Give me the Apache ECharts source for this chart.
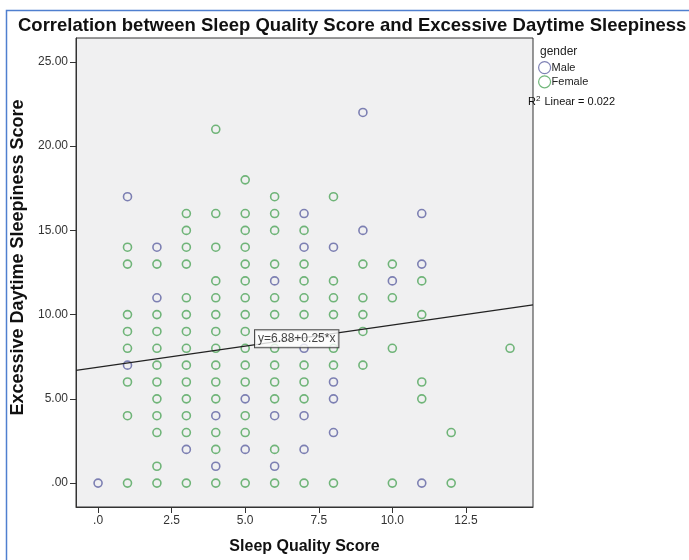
<!DOCTYPE html>
<html>
<head>
<meta charset="utf-8">
<script src="https://cdn.jsdelivr.net/npm/echarts@6/dist/echarts.min.js"></script>
<style>
  html, body { margin: 0; padding: 0; background: #fff; }
  #chart { width: 689px; height: 560px; }
</style>
</head>
<body>
<div id="chart"></div>
<script>
// points, [sleep quality, daytime sleepiness]
const malePoints = [
  [9, 22], [1, 17], [7, 16], [11, 16], [9, 15], [2, 14], [7, 14], [8, 14],
  [11, 13], [6, 12], [10, 12], [2, 11], [7, 8], [1, 7], [8, 6], [5, 5],
  [8, 5], [4, 4], [6, 4], [7, 4], [8, 3], [3, 2], [5, 2], [7, 2],
  [4, 1], [6, 1], [0, 0], [11, 0]
];

const femalePoints = [
  [4, 21], [5, 18], [6, 17], [8, 17],
  [3, 16], [4, 16], [5, 16], [6, 16],
  [3, 15], [5, 15], [6, 15], [7, 15],
  [1, 14], [3, 14], [4, 14], [5, 14],
  [1, 13], [2, 13], [3, 13], [5, 13], [6, 13], [7, 13], [9, 13], [10, 13],
  [4, 12], [5, 12], [7, 12], [8, 12], [11, 12],
  [3, 11], [4, 11], [5, 11], [6, 11], [7, 11], [8, 11], [9, 11], [10, 11],
  [1, 10], [2, 10], [3, 10], [4, 10], [5, 10], [6, 10], [7, 10], [8, 10], [9, 10], [11, 10],
  [1, 9], [2, 9], [3, 9], [4, 9], [5, 9], [9, 9],
  [1, 8], [2, 8], [3, 8], [4, 8], [5, 8], [6, 8], [8, 8], [10, 8], [14, 8],
  [2, 7], [3, 7], [4, 7], [5, 7], [6, 7], [7, 7], [8, 7], [9, 7],
  [1, 6], [2, 6], [3, 6], [4, 6], [5, 6], [6, 6], [7, 6], [11, 6],
  [2, 5], [3, 5], [4, 5], [6, 5], [7, 5], [11, 5],
  [1, 4], [2, 4], [3, 4], [5, 4],
  [2, 3], [3, 3], [4, 3], [5, 3], [12, 3],
  [4, 2], [6, 2],
  [2, 1],
  [1, 0], [2, 0], [3, 0], [4, 0], [5, 0], [6, 0], [7, 0], [8, 0], [10, 0], [12, 0]
];

const xTicks = [0, 2.5, 5, 7.5, 10, 12.5];
const yTicks = [0, 5, 10, 15, 20, 25];

// linear fit shown on the chart
const fitIntercept = 6.88;
const fitSlope = 0.25;
const rSquared = 0.022;

const xMin = -0.75, xMax = 14.78;
const yMin = -1.42, yMax = 26.42;

const maleColor = "#5f63a3";
const femaleColor = "#4fa55a";
const font = "Liberation Sans, Arial, sans-serif";

const fitLine = [xMin, xMax].map(x => [x, fitIntercept + fitSlope * x]);
const labelX = 6.75;

const chart = echarts.init(document.getElementById("chart"));

const option = {
  animation: false,
  backgroundColor: "#fff",
  textStyle: { fontFamily: font },
  title: {
    text: "Correlation between Sleep Quality Score and Excessive Daytime Sleepiness",
    left: 13,
    top: 11,
    textStyle: { fontSize: 18.5, fontWeight: "bold", color: "#111", fontFamily: font }
  },
  legend: {
    orient: "vertical",
    left: 533,
    top: 56,
    itemWidth: 12,
    itemHeight: 12,
    itemGap: 1,
    textStyle: { fontSize: 11, color: "#222", padding: [0, 0, 0, -4] },
    data: [
      { name: "Male", icon: "circle", itemStyle: { color: "transparent", borderColor: maleColor, borderWidth: 1.2 } },
      { name: "Female", icon: "circle", itemStyle: { color: "transparent", borderColor: femaleColor, borderWidth: 1.2 } }
    ]
  },
  grid: {
    left: 76,
    top: 38,
    right: 156,
    bottom: 52,
    show: true,
    backgroundColor: "#f0f0f1",
    borderColor: "#333",
    borderWidth: 1
  },
  xAxis: {
    type: "value",
    min: xMin,
    max: xMax,
    name: "Sleep Quality Score",
    nameLocation: "middle",
    nameGap: 32,
    nameTextStyle: { fontSize: 16, fontWeight: "bold", color: "#111" },
    axisLine: { show: true, onZero: false, lineStyle: { color: "#333" } },
    axisTick: { show: true, customValues: xTicks, length: 6, lineStyle: { color: "#333" } },
    axisLabel: {
      customValues: xTicks,
      fontSize: 12,
      color: "#333",
      margin: 8,
      formatter: v => (v === 0 ? ".0" : v.toFixed(1))
    },
    splitLine: { show: false }
  },
  yAxis: {
    type: "value",
    min: yMin,
    max: yMax,
    name: "Excessive Daytime Sleepiness Score",
    nameLocation: "middle",
    nameGap: 48,
    nameTextStyle: { fontSize: 18, fontWeight: "bold", color: "#111", padding: [0, 0, 0, 30] },
    axisLine: { show: true, onZero: false, lineStyle: { color: "#333" } },
    axisTick: { show: true, customValues: yTicks, length: 6, lineStyle: { color: "#333" } },
    axisLabel: {
      customValues: yTicks,
      fontSize: 12,
      color: "#333",
      margin: 8,
      formatter: v => (v === 0 ? ".00" : v.toFixed(2))
    },
    splitLine: { show: false }
  },
  series: [
    {
      name: "Male",
      type: "scatter",
      symbol: "circle",
      symbolSize: 8,
      itemStyle: { color: "transparent", borderColor: maleColor, borderWidth: 1.6 },
      data: malePoints,
      z: 3
    },
    {
      name: "Female",
      type: "scatter",
      symbol: "circle",
      symbolSize: 8,
      itemStyle: { color: "transparent", borderColor: femaleColor, borderWidth: 1.6 },
      data: femalePoints,
      z: 3
    },
    {
      name: "Fit",
      type: "line",
      data: fitLine,
      symbol: "none",
      silent: true,
      lineStyle: { color: "#222", width: 1.2 },
      z: 4
    },
    {
      name: "FitLabel",
      type: "scatter",
      symbolSize: 0,
      silent: true,
      data: [[labelX, fitIntercept + fitSlope * labelX]],
      label: {
        show: true,
        position: "inside",
        formatter: "y=" + fitIntercept.toFixed(2) + "+" + fitSlope.toFixed(2) + "*x",
        fontSize: 12,
        color: "#111",
        backgroundColor: "#fff",
        borderColor: "#222",
        borderWidth: 1,
        padding: [3, 3, 2, 3]
      },
      z: 6
    }
  ],
  graphic: [
    {
      type: "rect",
      left: 4,
      top: 8,
      shape: { width: 720, height: 600 },
      style: { fill: "none", stroke: "#4f7fcf", lineWidth: 1.5 },
      silent: true
    },
    {
      type: "text",
      left: 540,
      top: 46,
      style: { text: "gender", fontSize: 12, fill: "#222", fontFamily: font }
    },
    {
      type: "text",
      left: 528,
      top: 95,
      style: {
        text: "R{sup|2} Linear = " + rSquared.toFixed(3),
        fontSize: 11,
        fill: "#111",
        fontFamily: font,
        rich: { sup: { fontSize: 8, verticalAlign: "top", padding: [0, 1, 6, 0] } }
      }
    }
  ]
};

chart.setOption(option);
</script>
</body>
</html>
